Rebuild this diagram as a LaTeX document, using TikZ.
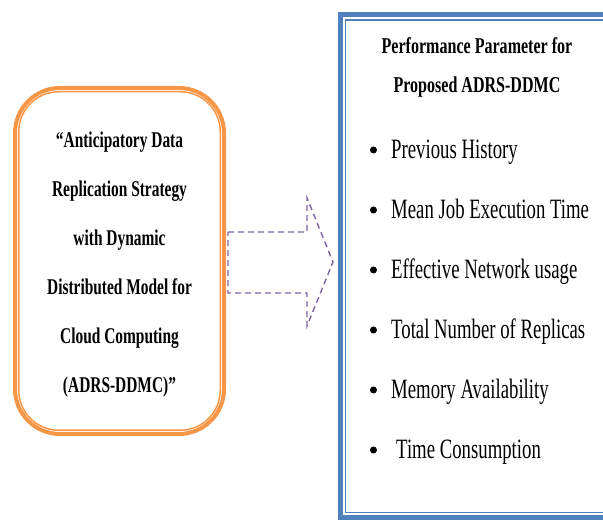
\documentclass[tikz,border=0pt]{standalone}
\usepackage{fontspec}
\newfontfamily\lfont[FakeStretch=0.685]{Liberation Serif}
\newfontfamily\tfont[FakeStretch=0.71]{Liberation Serif}
\newfontfamily\ifont[FakeStretch=0.67]{Liberation Serif}
\definecolor{borange}{HTML}{F79646}
\definecolor{bblue}{HTML}{4F81BD}
\definecolor{bpurple}{HTML}{8064A2}
\tikzset{
  px/.style={x=1pt,y=-1pt},
  ltext/.style={anchor=base,inner sep=0pt,font=\lfont\bfseries\fontsize{22.5}{26}\selectfont},
  ttext/.style={anchor=base,inner sep=0pt,font=\tfont\bfseries\fontsize{22.6}{26}\selectfont},
  itext/.style={anchor=base west,inner sep=0pt,font=\ifont\fontsize{28}{32}\selectfont},
  bul/.style={circle,fill=black,inner sep=0pt,minimum size=7pt},
  arrowline/.style={draw=bpurple,line width=1.4pt,dash pattern=on 6pt off 4pt}
}
\begin{document}
\begin{tikzpicture}[px]
\useasboundingbox (0,0) rectangle (603,521);
\clip (0,0) rectangle (603,521);
% left box
\draw[borange,line width=4pt,rounded corners=45pt] (15,88) rectangle (224,434);
\draw[borange,line width=1.5pt,rounded corners=40pt] (18.75,91.75) rectangle (220.25,430.25);
\node[ltext] (l1) at (119.5,148) {“Anticipatory Data};
\node[ltext] (l2) at (119.5,197) {Replication Strategy};
\node[ltext] (l3) at (119.5,246) {with Dynamic};
\node[ltext] (l4) at (119.5,295) {Distributed Model for};
\node[ltext] (l5) at (119.5,344) {Cloud Computing};
\node[ltext] (l6) at (119.5,393) {(ADRS-DDMC)”};
% right box
\draw[bblue,line width=5pt] (640,14.5) -- (340.5,14.5) -- (340.5,517.3) -- (640,517.3);
\draw[bblue,line width=1.5pt] (640,19.8) -- (345.7,19.8) -- (345.7,512.5) -- (640,512.5);
\node[ttext] (t1) at (477,54) {Performance Parameter for};
\node[ttext] (t2) at (477,93) {Proposed ADRS-DDMC};
\foreach \n/\y/\txt/\dx in {1/159/Previous History/0, 2/219/Mean Job Execution Time/0, 3/279/Effective Network usage/0, 4/339/Total Number of Replicas/0, 5/399/Memory Availability/0, 6/459/Time Consumption/5}{
  \node[bul] (b\n) at (373.5,\y-9) {};
  \node[itext] (i\n) at (391+\dx,\y) {\txt};
}
% block arrow
\coordinate (a1) at (228,232);
\coordinate (a2) at (307,232);
\coordinate (a3) at (307,198);
\coordinate (a4) at (333,262);
\coordinate (a5) at (307,326);
\coordinate (a6) at (307,293);
\coordinate (a7) at (228,293);
\draw[arrowline] (a1) -- (a2) -- (a3) -- (a4) -- (a5) -- (a6) -- (a7) -- cycle;
\end{tikzpicture}
\end{document}
